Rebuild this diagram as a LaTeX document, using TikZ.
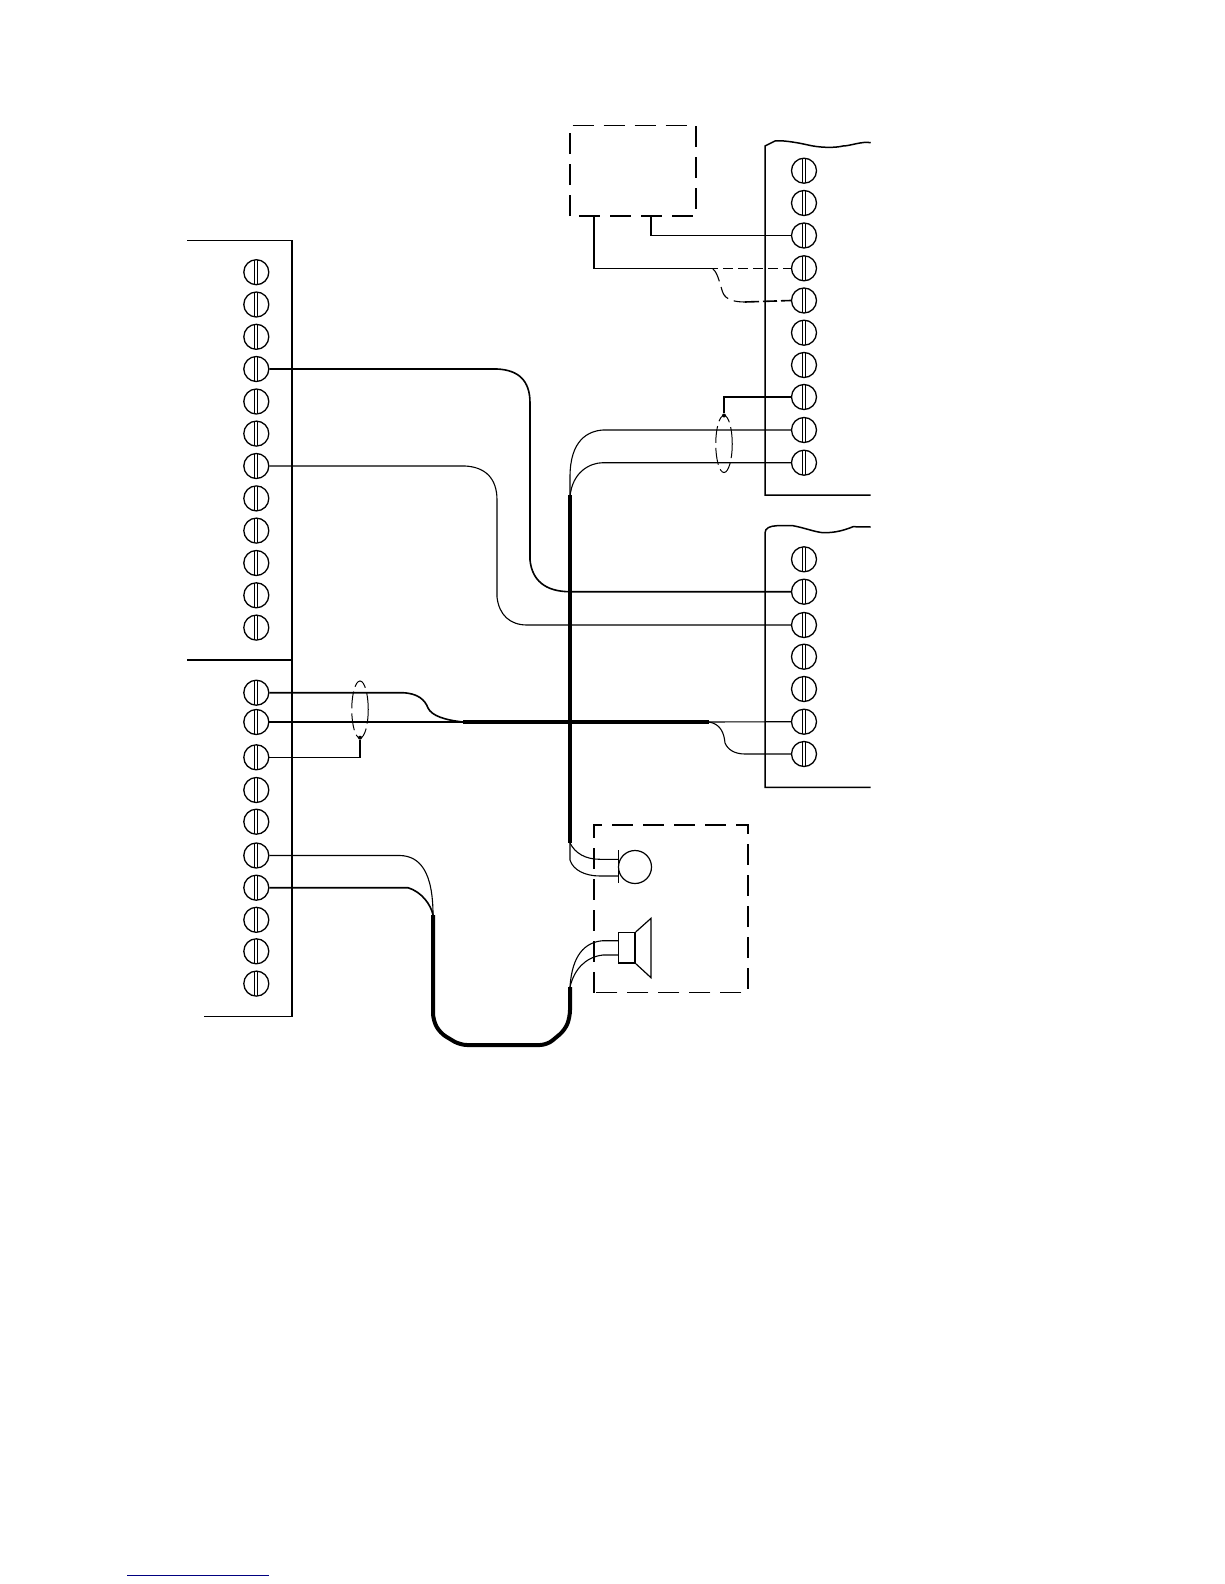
\documentclass[tikz,border=0pt]{standalone}
\usetikzlibrary{shapes.geometric}
\definecolor{navy}{RGB}{0,0,128}
\tikzset{
    screw/.style={circle, draw, line width=1.3pt, minimum size=25pt, inner sep=0pt,
        path picture={
            \draw[line width=0.9pt]([xshift=-1.6pt]path picture bounding box.north) -- ([xshift=-1.6pt]path picture bounding box.south);
            \draw[line width=0.9pt]([xshift=1.6pt]path picture bounding box.north) -- ([xshift=1.6pt]path picture bounding box.south);
        }},
    panel/.style={line width=1.5pt},
    wire/.style={line width=1.1pt},
    wirebold/.style={line width=1.6pt},
    cable/.style={line width=4pt},
    dashbox/.style={line width=1.5pt, dash pattern=on 21pt off 10pt},
    shield/.style={ellipse, draw, line width=1pt, dash pattern=on 17pt off 5pt, minimum width=16.5pt, minimum height=57pt, inner sep=0pt},
    dot/.style={circle, fill, minimum size=4pt, inner sep=0pt}
}
\begin{document}
\begin{tikzpicture}[x=1pt, y=-1pt]
        \useasboundingbox (0,0) rectangle (1224,1584);

        \draw[panel](187,240.5) -- (292,240.5) -- (292,1016.5) -- (204,1016.5);
        \draw[panel](187,660) -- (292,660);
        \draw[panel](870.7,142.7) .. controls (862,141) and (850,146) .. (843,146) .. controls (835,148) and (820,148) .. (806.7,144.7) .. controls (795,142) and (780,140) .. (775,141) -- (765,146) -- (765,495) -- (870.7,495);
        \draw[panel](870.7,527) -- (853,526.7) .. controls (845,530) and (835,533) .. (823,532.7) .. controls (815,532) and (805,528) .. (793,525.7) -- (777,525.7) .. controls (770,526) and (765,528) .. (765,533) -- (765,787.3) -- (870.7,787.3);

        \node[screw] (lt1) at (256.3,272.2){};
        \node[screw] (lt2) at (256.3,304.5){};
        \node[screw] (lt3) at (256.3,336.8){};
        \node[screw] (lt4) at (256.3,369){};
        \node[screw] (lt5) at (256.3,401.5){};
        \node[screw] (lt6) at (256.3,433.6){};
        \node[screw] (lt7) at (256.3,466){};
        \node[screw] (lt8) at (256.3,498.4){};
        \node[screw] (lt9) at (256.3,530.6){};
        \node[screw] (lt10) at (256.3,563){};
        \node[screw] (lt11) at (256.3,595.3){};
        \node[screw] (lt12) at (256.3,627.6){};

        \node[screw] (lb1) at (256.3,692.7){};
        \node[screw] (lb2) at (256.3,722){};
        \node[screw] (lb3) at (256.3,757.3){};
        \node[screw] (lb4) at (256.3,790){};
        \node[screw] (lb5) at (256.3,821.7){};
        \node[screw] (lb6) at (256.3,855.5){};
        \node[screw] (lb7) at (256.3,887.7){};
        \node[screw] (lb8) at (256.3,919.8){};
        \node[screw] (lb9) at (256.3,951.3){};
        \node[screw] (lb10) at (256.3,983.6){};

        \node[screw] (rt1) at (804,170.7){};
        \node[screw] (rt2) at (804,203){};
        \node[screw] (rt3) at (804,235.5){};
        \node[screw] (rt4) at (804,268.3){};
        \node[screw] (rt5) at (804,300.5){};
        \node[screw] (rt6) at (804,332.7){};
        \node[screw] (rt7) at (804,365){};
        \node[screw] (rt8) at (804,397){};
        \node[screw] (rt9) at (804,430){};
        \node[screw] (rt10) at (804,462.7){};

        \node[screw] (rb1) at (804,559.3){};
        \node[screw] (rb2) at (804,591.7){};
        \node[screw] (rb3) at (804,625){};
        \node[screw] (rb4) at (804,656.7){};
        \node[screw] (rb5) at (804,689){};
        \node[screw] (rb6) at (804,721.7){};
        \node[screw] (rb7) at (804,754){};

        \draw[dashbox](570,216) -- (570,125.7) -- (696,125.7) -- (696,216) -- cycle;
        \draw[dashbox](594,992.7) -- (594,825) -- (748,825) -- (748,992.7) -- cycle;

        \coordinate (relayleft) at (594,216);
        \coordinate (relayright) at (651,216);
        \draw[wirebold](relayright) -- (651,235.5) -- (rt3.west);
        \draw[wirebold](relayleft) -- (594,268.3) -- (708,268.3);
        \draw[wire, dash pattern=on 10pt off 5pt](708,268.3) -- (rt4.west);
        \draw[wire, dash pattern=on 14pt off 6pt](713,269) .. controls (718,273) and (720,285) .. (723,293) .. controls (726,300) and (735,302) .. (745,302);
        \draw[wirebold, dash pattern=on 14pt off 4pt](745,302) -- (rt5.west);

        \node[shield] (shieldr) at (724,444){};
        \node[dot] (dotr) at (724,415.5){};
        \draw[wire](dotr) -- (724,397) -- (rt8.west);
        \draw[wire](rt9.west) -- (603,430) .. controls (588,431) and (570,440) .. (570,477) -- (570,497);
        \draw[wire](rt10.west) -- (603,462.7) .. controls (590,462.7) and (572,472) .. (570,497);

        \draw[cable](570,495) -- (570,843);
        \draw[wirebold](lt4.east) -- (497,369) .. controls (518,370) and (530,380) .. (530,403) -- (530,560) .. controls (532,580) and (545,591.7) .. (570,591.7) -- (rb2.west);
        \draw[wire](lt7.east) -- (465,466) .. controls (485,467) and (497,478) .. (497,500) -- (497,597) .. controls (499,615) and (510,625) .. (527,625) -- (rb3.west);

        \node[shield] (shieldl) at (360,709.5){};
        \node[dot] (dotl) at (360,737.7){};
        \draw[wirebold](dotl) -- (360,757.3) -- (lb3.east);
        \draw[wirebold](lb1.east) -- (401.7,692.7) .. controls (418,693) and (425,700) .. (428,708) .. controls (432,716) and (445,720) .. (463,722);
        \draw[wire](lb2.east) -- (463,722);
        \draw[cable](463,722) -- (709,722);
        \draw[wire](709,722) -- (rb6.west);
        \draw[wire](709,722) .. controls (720,724) and (724,732) .. (725,743) .. controls (728,750) and (735,754) .. (745,754) -- (rb7.west);

        \draw[wire](lb6.east) -- (400,855.5) .. controls (420,856) and (433,872) .. (433,915);
        \draw[wirebold](lb7.east) -- (408,887.7) .. controls (422,892) and (431,905) .. (433,915);
        \draw[cable, rounded corners=7pt](433,915) -- (433,1020) -- (440,1033) -- (460,1045) -- (547,1045) -- (565,1030) -- (570,1017) -- (570,987);

        \node[circle, draw, line width=1.2pt, minimum size=33pt, inner sep=0pt] (mic) at (635,867){};
        \draw[line width=1.2pt](618.3,850) -- (618.3,883);
        \coordinate (micup) at (618.3,859.3);
        \coordinate (miclow) at (618.3,876);
        \draw[wire](570,843) .. controls (575,853) and (585,859.3) .. (600,859.3) -- (micup);
        \draw[wire](570,843) -- (570,860) .. controls (573,870) and (585,876) .. (600,876) -- (miclow);

        \node[rectangle, draw, line width=1.5pt, minimum width=16.7pt, minimum height=30.3pt, inner sep=0pt] (spk) at (626.7,947.8){};
        \draw[line width=1.2pt](spk.north east) -- (651,918.3) -- (651,977.7) -- (spk.south east);
        \coordinate (spkup) at (618.3,940.7);
        \coordinate (spklow) at (618.3,955);
        \draw[wire](spkup) -- (603,940.7) .. controls (585,942) and (572,955) .. (570,987);
        \draw[wire](spklow) -- (603,955) .. controls (585,957) and (574,970) .. (570,987);

        \draw[navy, line width=1pt](127,1575) -- (268.7,1575);
    \end{tikzpicture}
\end{document}
